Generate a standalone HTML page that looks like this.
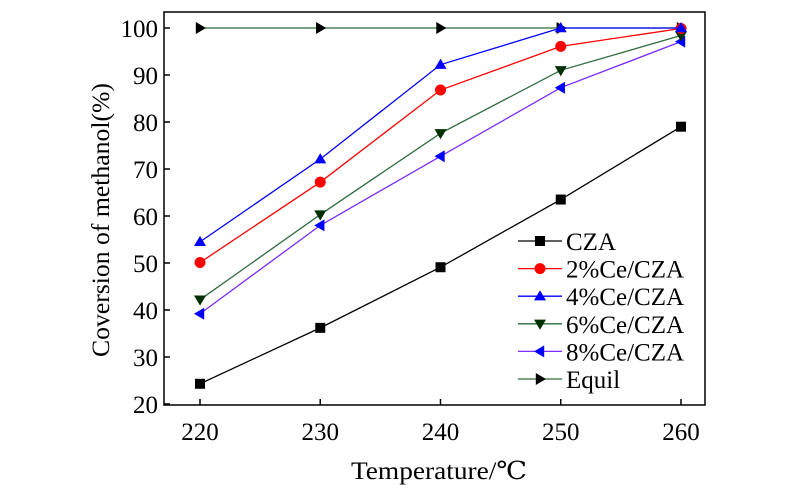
<!DOCTYPE html>
<html><head><meta charset="utf-8"><style>
body{margin:0;background:#fff}
svg text{font-family:"Liberation Serif","Times New Roman","DejaVu Serif",serif;fill:#000}
</style></head><body>
<svg id="chart" width="800" height="493" xmlns="http://www.w3.org/2000/svg">
<rect x="164" y="12" width="541" height="393" fill="none" stroke="#000" stroke-width="1.5"/>
<g id="axes"></g><g id="series"></g><g id="legend"></g>
<text x="439" y="479" font-size="25" text-anchor="middle" textLength="176" lengthAdjust="spacingAndGlyphs">Temperature/℃</text>
<text transform="translate(109,220) rotate(-90)" font-size="25" text-anchor="middle" textLength="274" lengthAdjust="spacingAndGlyphs">Coversion of methanol(%)</text>
</svg>
<script>
const temps=[220,230,240,250,260];
const yTicks=[20,30,40,50,60,70,80,90,100];
const czA=[24.3,36.2,49.1,63.5,79.0];
const ce2=[50.1,67.2,86.8,96.1,99.9];
const ce4=[54.5,72.1,92.2,100,100];
const ce6=[42.2,60.3,77.6,91.0,98.4];
const ce8=[39.2,58.0,72.7,87.3,97.1];
const equil=[100,100,100,100,100];
const names=["CZA","2%Ce/CZA","4%Ce/CZA","6%Ce/CZA","8%Ce/CZA","Equil"];
const NS="http://www.w3.org/2000/svg";
const X=v=>200+(v-220)*(681-200)/40;
const Y=v=>404-(v-20)*(404-28)/80;
function mk(tag,attrs,parent){const e=document.createElementNS(NS,tag);for(const k in attrs)e.setAttribute(k,attrs[k]);parent.appendChild(e);return e;}
const ax=document.getElementById('axes');
temps.forEach(t=>{
 const l=mk('line',{x1:X(t),x2:X(t),y1:405,y2:399,stroke:'#000','stroke-width':1.5},ax);
 
 
 const tx=mk('text',{x:X(t),y:440,'font-size':25,'text-anchor':'middle'},ax);tx.textContent=t;
 
 
});
yTicks.forEach(v=>{
 const l=mk('line',{x1:164,x2:170,y1:Y(v),y2:Y(v),stroke:'#000','stroke-width':1.5},ax);
 
 
 const tx=mk('text',{x:158,y:Y(v)+9,'font-size':25,'text-anchor':'end'},ax);tx.textContent=v;
 
 
});
const data=[czA,ce2,ce4,ce6,ce8,equil];
const lineCol=['#000','#ff0000','#0000ff','#2e6b3e','#7b2cff','#2e6b3e'];
const mkCol=['#000','#ff0000','#0000ff','#003000','#0000ff','#000'];
const shapes=['sq','ci','up','dn','lt','rt'];
function marker(s,x,y,c,p){
 let e;const r=6;
 if(s==='sq')e=mk('rect',{x:x-5,y:y-5,width:10,height:10,fill:c},p);
 else if(s==='ci')e=mk('circle',{cx:x,cy:y,r:5.5,fill:c},p);
 else{let pts;
  if(s==='up')pts=[[x,y-r],[x-r,y+r*0.7],[x+r,y+r*0.7]];
  if(s==='dn')pts=[[x,y+r],[x-r,y-r*0.7],[x+r,y-r*0.7]];
  if(s==='lt')pts=[[x-r,y],[x+r*0.7,y-r],[x+r*0.7,y+r]];
  if(s==='rt')pts=[[x+r,y],[x-r*0.7,y-r],[x-r*0.7,y+r]];
  e=mk('polygon',{points:pts.map(p=>p.join(',')).join(' '),fill:c},p);}
 return e;
}
const sg=document.getElementById('series');
const order=[5,0,4,3,1,2];
order.forEach(i=>{
 const g=mk('g',{},sg);
 
 
 mk('polyline',{points:temps.map((t,j)=>X(t)+','+Y(data[i][j])).join(' '),fill:'none',stroke:lineCol[i],'stroke-width':1.3},g);
 temps.forEach((t,j)=>{const m=marker(shapes[i],X(t),Y(data[i][j]),mkCol[i],g);
  
  });
});
const lg=document.getElementById('legend');
names.forEach((n,i)=>{
 const y=241+i*27.6;
 const g=mk('g',{},lg);
 
 
 mk('line',{x1:518,x2:562,y1:y,y2:y,stroke:lineCol[i],'stroke-width':1.3},g);
 marker(shapes[i],540,y,mkCol[i],g);
 const t=mk('text',{x:566,y:y+9,'font-size':25},g);t.textContent=n;
});
</script>
</body></html>
